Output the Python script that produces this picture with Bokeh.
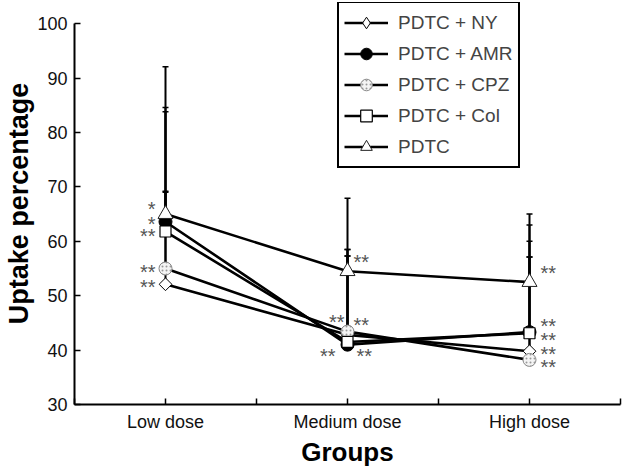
from bokeh.plotting import figure
from bokeh.models import (ColumnDataSource, Whisker, TeeHead, FixedTicker, Legend,
                          LegendItem, Range1d)
from bokeh.core.properties import value
from bokeh.embed import file_html
from bokeh.resources import INLINE

groups = ["Low dose", "Medium dose", "High dose"]
group_pos = [1, 2, 3]
series_names = ["PDTC + NY", "PDTC + AMR", "PDTC + CPZ", "PDTC + Col", "PDTC"]
ny = [52.1, 42.8, 39.8]
amr = [63.6, 41.0, 43.3]
cpz = [55.0, 43.4, 38.2]
col = [61.8, 41.5, 43.1]
pdtc = [65.0, 54.5, 52.5]
ny_err = [40.0, 25.1, 25.2]
amr_err = [5.4, 17.5, 13.8]
cpz_err = [29.6, 15.1, 24.8]
col_err = [22.0, 15.8, 16.9]
pdtc_err = [4.2, 2.8, 4.6]
y_ticks = [30, 40, 50, 60, 70, 80, 90, 100]
x_title = "Groups"
y_title = "Uptake percentage"

# significance marks: (series index, group index, text)
star_series = [4, 1, 3, 2, 0, 4, 2, 2, 1, 1, 4, 1, 3, 0, 2]
star_group = [0, 0, 0, 0, 0, 1, 1, 1, 1, 1, 2, 2, 2, 2, 2]
star_text = ["*", "*", "**", "**", "**", "**", "**", "**", "**", "**",
             "**", "**", "**", "**", "**"]

values = [ny, amr, cpz, col, pdtc]
errors = [ny_err, amr_err, cpz_err, col_err, pdtc_err]

FONT = "Liberation Sans"
NAN = float("nan")

p = figure(width=626, height=469, output_backend="svg", toolbar_location=None,
           x_range=Range1d(0.5, 3.5), y_range=Range1d(30, 103.9),
           min_border_left=74, min_border_top=2, min_border_bottom=63,
           min_border_right=6)
p.outline_line_color = None
p.xgrid.visible = False
p.ygrid.visible = False

# axes
p.xaxis.ticker = FixedTicker(ticks=[0.5, 1, 1.5, 2, 2.5, 3, 3.5])
p.xaxis.major_label_overrides = {0.5: "", 1: groups[0], 1.5: "", 2: groups[1],
                                 2.5: "", 3: groups[2], 3.5: ""}
p.yaxis.ticker = FixedTicker(ticks=y_ticks)
p.yaxis.bounds = (30, 100)
for ax in (p.xaxis, p.yaxis):
    ax.axis_line_width = 2
    ax.axis_line_color = "black"
    ax.major_tick_in = 6
    ax.major_tick_out = 0
    ax.major_tick_line_width = 1.5
    ax.minor_tick_line_color = None
    ax.major_label_text_font = FONT
    ax.major_label_text_font_size = "18px"
    ax.major_label_text_color = "#111111"
    ax.axis_label_text_font = FONT
    ax.axis_label_text_font_style = "bold"
    ax.axis_label_text_color = "black"
p.xaxis.axis_label = x_title
p.yaxis.axis_label = y_title
p.xaxis.axis_label_text_font_size = "26px"
p.yaxis.axis_label_text_font_size = "27px"
p.xaxis.major_label_standoff = 7
p.yaxis.major_label_standoff = 7
p.xaxis.axis_label_standoff = 2
p.yaxis.axis_label_standoff = 0

# error bars (upper only)
for v, e in zip(values, errors):
    src = ColumnDataSource(dict(x=group_pos, base=v, upper=[a + b for a, b in zip(v, e)]))
    w = Whisker(source=src, base="x", lower="base", upper="upper", dimension="height",
                line_color="black", line_width=2,
                upper_head=TeeHead(size=6, line_width=1.5, line_color="black"),
                lower_head=None)
    p.add_layout(w)

# lines
line_rs = []
for v in values:
    line_rs.append(p.line(group_pos, v, line_color="black", line_width=2.6))

# markers
mk = []
mk.append(p.scatter(group_pos, ny, marker="square", angle=0.785398, size=9,
                    fill_color="white", line_color="black", line_width=1))
mk.append(p.scatter(group_pos, amr, marker="circle", size=13,
                    fill_color="black", line_color="black", line_width=1))
mk.append(p.scatter(group_pos, cpz, marker="circle", size=13,
                    fill_color="#f4f4f4", line_color="#888888", line_width=1,
                    hatch_pattern=".", hatch_color="#999999", hatch_scale=4))
mk.append(p.scatter(group_pos, col, marker="square", size=11,
                    fill_color="white", line_color="black", line_width=1.2))
mk.append(p.scatter(group_pos, pdtc, marker="triangle", size=15,
                    fill_color="white", line_color="#222222", line_width=1))

# legend-only key for the diamond (a NaN point, so nothing shows in the plot)
ny_key = p.scatter(x=[NAN], y=[NAN], marker="diamond", size=13,
                   fill_color="white", line_color="black", line_width=1)

# significance stars
dx = [-10, -10, -10, -10, -10, 6, -3, 6, -12, 9, 11, 11, 11, 11, 11]
dy = [-9, -2, 0, -1, -1, -13, -14, -11, 7, 7, -13, -10, 3, -1, 3]
align = ["right"] * 5 + ["left", "right", "left", "right", "left"] + ["left"] * 5
sx = [group_pos[g] for g in star_group]
sy = [values[s][g] for s, g in zip(star_series, star_group)]
ssrc = ColumnDataSource(dict(x=sx, y=sy, t=star_text, xo=dx, yo=[d + 4 for d in dy], a=align))
p.text(x="x", y="y", text="t", x_offset="xo", y_offset="yo", text_align="a",
       source=ssrc, text_baseline="middle", text_font=value(FONT),
       text_font_size="20px", text_color="#555555")

key_rs = [ny_key] + mk[1:]
items = [LegendItem(label=n, renderers=[l, m]) for n, l, m in zip(series_names, line_rs, key_rs)]
leg = Legend(items=items, location=(263, 236), margin=0, padding=5, spacing=2,
             glyph_width=44, glyph_height=29, label_standoff=10,
             label_text_font=FONT, label_text_font_size="19px",
             border_line_color="black", border_line_width=2, border_line_alpha=1,
             background_fill_color="white", background_fill_alpha=1)
p.add_layout(leg, "center")

open("out.html", "w").write(file_html(p, INLINE))
